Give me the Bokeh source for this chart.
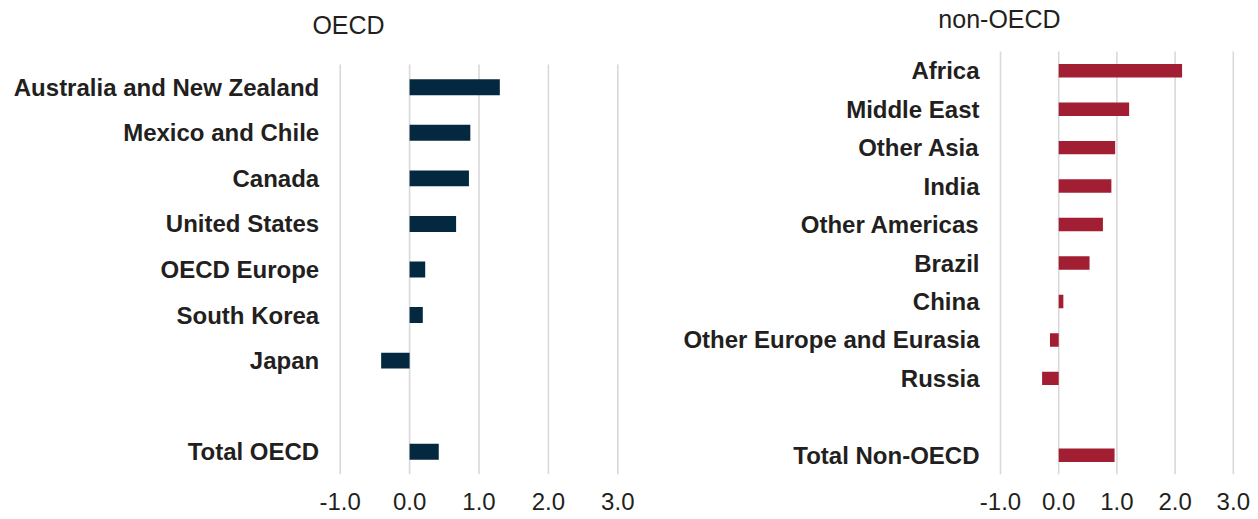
from bokeh.plotting import figure
from bokeh.models import Range1d, FixedTicker, PrintfTickFormatter, Label, ColumnDataSource
from bokeh.core.properties import value
from bokeh.layouts import row
from bokeh.embed import file_html
from bokeh.resources import INLINE

# ---- data ----
oecd_categories = ["Australia and New Zealand", "Mexico and Chile", "Canada", "United States",
                   "OECD Europe", "South Korea", "Japan", "Total OECD"]
oecd_values = [1.30, 0.875, 0.855, 0.67, 0.225, 0.19, -0.41, 0.42]

non_oecd_categories = ["Africa", "Middle East", "Other Asia", "India", "Other Americas", "Brazil",
                       "China", "Other Europe and Eurasia", "Russia", "Total Non-OECD"]
non_oecd_values = [2.12, 1.21, 0.97, 0.905, 0.76, 0.53, 0.08, -0.15, -0.285, 0.96]

x_ticks = [-1, 0, 1, 2, 3]
titles = ["OECD", "non-OECD"]

FONT = "Liberation Sans"
TEXT = "#231f20"
H = 519
BOTTOM = 45  # room for the value axis labels


def make_panel(cats, vals, title, color, width, px_unit, grid_left_px, grid_top_px, title_cx, title_cy):
    # rows from top to bottom, with an empty spacer row before the total
    n = len(cats) + 1
    pos = list(range(n - 1, 1, -1)) + [0]
    src = ColumnDataSource(dict(y=pos, val=vals, cat=cats))
    top = n - 0.5
    row_px = (H - BOTTOM - grid_top_px) / n
    x0 = x_ticks[0] - grid_left_px / px_unit
    x1 = x0 + width / px_unit
    y1 = top + grid_top_px / row_px
    p = figure(width=width, height=H, y_range=Range1d(-0.5, y1), x_range=Range1d(x0, x1),
               output_backend="svg", toolbar_location=None, y_axis_location=None,
               min_border_left=0, min_border_right=0, min_border_top=0,
               min_border_bottom=BOTTOM, title=None)
    # vertical gridlines over the bar area only
    p.segment(x0=x_ticks, x1=x_ticks, y0=-0.5, y1=top, line_color="#d9d9d9", line_width=1.6)
    p.hbar(y="y", left=0, right="val", height=0.35, source=src, color=color, line_color=None)
    # category labels, right-aligned just left of the first gridline
    p.text(x=x_ticks[0], y="y", text="cat", source=src, x_offset=-21, text_align="right",
           text_baseline="middle", text_font=value(FONT), text_font_size="24px",
           text_font_style="bold", text_color=TEXT)
    p.outline_line_color = None
    p.background_fill_color = "white"
    p.border_fill_color = "white"
    p.grid.grid_line_color = None
    p.xaxis.ticker = FixedTicker(ticks=x_ticks)
    p.xaxis.formatter = PrintfTickFormatter(format="%.1f")
    ax = p.xaxis
    ax.axis_line_color = None
    ax.major_tick_line_color = None
    ax.minor_tick_line_color = None
    ax.major_tick_out = 0
    ax.major_tick_in = 0
    ax.major_label_text_font = FONT
    ax.major_label_text_font_size = "24px"
    ax.major_label_text_color = TEXT
    ax.major_label_standoff = 18
    p.add_layout(Label(x=x0 + title_cx / px_unit, y=y1 - title_cy / row_px, text=title,
                       text_align="center", text_baseline="middle", text_font=FONT,
                       text_font_size="25px", text_color=TEXT))
    return p


left = make_panel(oecd_categories, oecd_values, titles[0], "#03283f", 648, 69.4, 339.7, 64, 348, 24.5)
right = make_panel(non_oecd_categories, non_oecd_values, titles[1], "#a21e33", 610, 58.2, 352, 51, 351, 18.5)

layout = row(left, right)
open("out.html", "w").write(file_html(layout, INLINE))
